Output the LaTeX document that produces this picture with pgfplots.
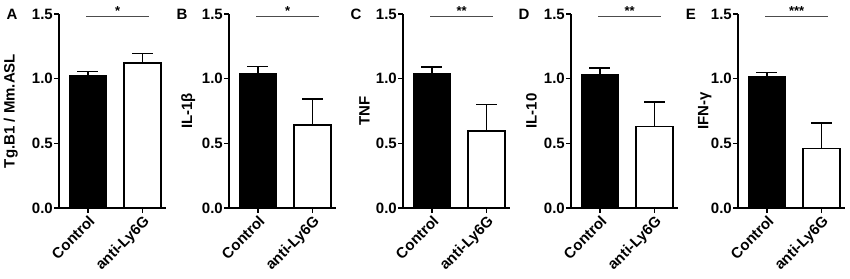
\documentclass[border=0pt]{standalone}
\usepackage{fontspec}
\setmainfont{Liberation Sans}
\usepackage{pgfplots}
\pgfplotsset{compat=1.18}
\pgfplotsset{
 panel/.style={
  scale only axis, width=107pt, height=194pt, anchor=south west,
  axis x line*=bottom, axis y line*=left,
  axis line style={-, line width=1.6pt, black},
  xmin=-0.53, xmax=1.43, ymin=0, ymax=1.5,
  xtick={0,1}, xticklabels={Control,anti-Ly6G},
  ytick={0,0.5,1,1.5},
  tick align=outside, major tick length=5pt,
  tick style={line width=1.6pt, black},
  ybar, bar width=37pt, bar shift=0pt,
  clip=false,
  tick label style={font=\fontsize{15}{15}\selectfont\bfseries},
  label style={font=\fontsize{15}{15}\selectfont\bfseries},
  xticklabel style={rotate=45, anchor=north east, inner sep=1pt},
  yticklabel style={inner sep=1pt,
    /pgf/number format/fixed, /pgf/number format/fixed zerofill,
    /pgf/number format/precision=1, /pgf/number format/assume math mode=true},
 },
 eb/.style={line width=1.6pt, draw=black,
  error bars/y dir=plus, error bars/y explicit,
  error bars/error bar style={line width=1.6pt, black},
  error bars/error mark options={line width=1.6pt, black, mark size=10.5pt, rotate=90}},
}
\newcommand{\sig}[1]{%
  \draw[line width=1pt, black!70] (axis cs:-0.03,1.48) -- (axis cs:1.12,1.48);
  \node[font=\fontsize{13}{13}\selectfont\bfseries, anchor=south, inner sep=0pt] at (axis cs:0.545,1.49) {#1};}
\newcommand{\panel}[1]{\node[font=\fontsize{15}{15}\selectfont\bfseries] at (axis description cs:-0.44,1.0) {#1};}
\begin{document}
\begin{tikzpicture}
% A
\begin{axis}[panel, at={(59pt,70pt)}, ylabel={Tg.B1 / Mm.ASL},
  ylabel style={at={(axis description cs:-0.45,0.5)}, anchor=center}]
\addplot[eb, fill=black] coordinates {(0,1.02) +- (0,0.035)};
\addplot[eb, fill=white] coordinates {(1,1.12) +- (0,0.075)};
\sig{*}
\panel{A}
\end{axis}
% B
\begin{axis}[panel, at={(229pt,70pt)}, ylabel={IL-1β},
  ylabel style={at={(axis description cs:-0.38,0.5)}, anchor=center}]
\addplot[eb, fill=black] coordinates {(0,1.04) +- (0,0.055)};
\addplot[eb, fill=white] coordinates {(1,0.64) +- (0,0.205)};
\sig{*}
\panel{B}
\end{axis}
% C
\begin{axis}[panel, at={(403pt,70pt)}, ylabel={TNF},
  ylabel style={at={(axis description cs:-0.36,0.5)}, anchor=center}]
\addplot[eb, fill=black] coordinates {(0,1.035) +- (0,0.055)};
\addplot[eb, fill=white] coordinates {(1,0.595) +- (0,0.205)};
\sig{**}
\panel{C}
\end{axis}
% D
\begin{axis}[panel, at={(571pt,70pt)}, ylabel={IL-10},
  ylabel style={at={(axis description cs:-0.37,0.5)}, anchor=center}]
\addplot[eb, fill=black] coordinates {(0,1.03) +- (0,0.053)};
\addplot[eb, fill=white] coordinates {(1,0.63) +- (0,0.19)};
\sig{**}
\panel{D}
\end{axis}
% E
\begin{axis}[panel, at={(738pt,70pt)}, ylabel={IFN-γ},
  ylabel style={at={(axis description cs:-0.31,0.5)}, anchor=center}]
\addplot[eb, fill=black] coordinates {(0,1.015) +- (0,0.032)};
\addplot[eb, fill=white] coordinates {(1,0.46) +- (0,0.197)};
\sig{***}
\panel{E}
\end{axis}
\pgfresetboundingbox
\path[use as bounding box] (0,0) rectangle (850pt,278pt);
\end{tikzpicture}
\end{document}
